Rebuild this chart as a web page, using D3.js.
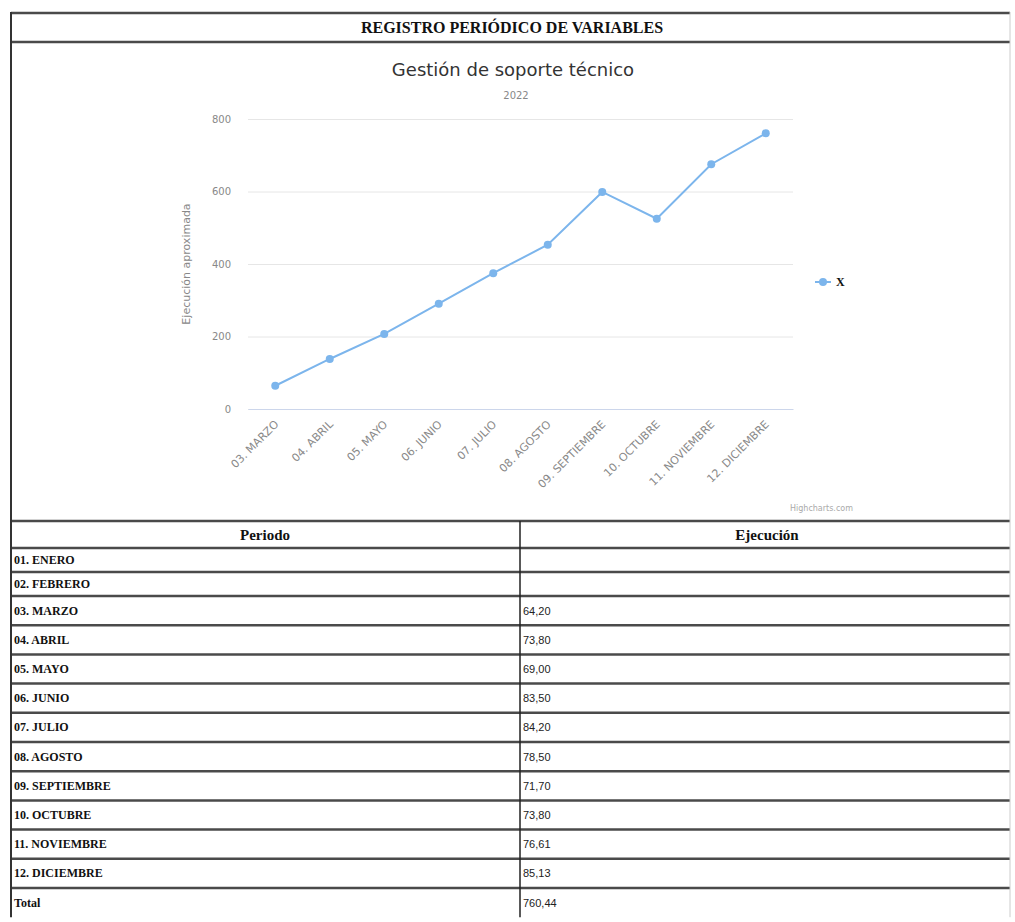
<!DOCTYPE html>
<html lang="es">
<head>
    <meta charset="UTF-8">
    <title>Registro periódico de variables</title>
    <script src="https://d3js.org/d3.v7.min.js"></script>
    <style>
        body { margin: 0; background: #fff; }
        .serif { font-family: "Liberation Serif", "Times New Roman", serif; font-weight: bold; fill: #111; }
        .hc { font-family: "DejaVu Sans", Verdana, sans-serif; }
        .num { font-family: "Liberation Sans Narrow", "Liberation Sans", Arial, sans-serif; fill: #222; }
    </style>
</head>
<body>
    <div id="page"></div>
    <script>
        // Data
        const months = ["03. MARZO", "04. ABRIL", "05. MAYO", "06. JUNIO", "07. JULIO",
                        "08. AGOSTO", "09. SEPTIEMBRE", "10. OCTUBRE", "11. NOVIEMBRE", "12. DICIEMBRE"];
        const accumulated = [64.2, 138.0, 207.0, 290.5, 374.7, 453.2, 598.7, 524.9, 675.3, 760.44];
        const yTicks = [0, 200, 400, 600, 800];

        const periods = ["01. ENERO", "02. FEBRERO", "03. MARZO", "04. ABRIL", "05. MAYO", "06. JUNIO",
                         "07. JULIO", "08. AGOSTO", "09. SEPTIEMBRE", "10. OCTUBRE", "11. NOVIEMBRE",
                         "12. DICIEMBRE", "Total"];
        const executions = ["", "", "64,20", "73,80", "69,00", "83,50", "84,20", "78,50", "71,70",
                            "73,80", "76,61", "85,13", "760,44"];

        const W = 1015, H = 922;
        const left = 11, right = 1010, mid = 520;
        const seriesColor = "#7cb5ec";

        const svg = d3.select("#page").append("svg")
            .attr("width", W)
            .attr("height", H);

        // outer frame + title row
        const lineColor = "#4a4a4a";
        function hline(y, w) {
            svg.append("line")
                .attr("x1", left).attr("x2", right)
                .attr("y1", y).attr("y2", y)
                .attr("stroke", lineColor)
                .attr("stroke-width", w || 2.5);
        }
        hline(13);
        hline(42);
        svg.append("text")
            .attr("class", "serif")
            .attr("x", 512).attr("y", 33)
            .attr("text-anchor", "middle")
            .attr("font-size", "16px")
            .text("REGISTRO PERIÓDICO DE VARIABLES");

        // ---- chart ----
        const x = d3.scaleBand().domain(months).range([248, 793]);
        const y = d3.scaleLinear().domain([0, 800]).range([409, 119]);
        const cx = d => x(d) + x.bandwidth() / 2;

        svg.append("text")
            .attr("class", "hc")
            .attr("x", 513).attr("y", 76)
            .attr("text-anchor", "middle")
            .attr("font-size", "18px")
            .attr("fill", "#333")
            .text("Gestión de soporte técnico");

        svg.append("text")
            .attr("class", "hc")
            .attr("x", 516).attr("y", 99)
            .attr("text-anchor", "middle")
            .attr("font-size", "10px")
            .attr("fill", "#888")
            .text("2022");

        // gridlines and y labels
        const yAxis = svg.append("g")
            .attr("transform", "translate(248,0)")
            .call(d3.axisLeft(y).tickValues(yTicks).tickSize(-(793 - 248)).tickPadding(17));
        yAxis.select(".domain").remove();
        yAxis.selectAll(".tick line").attr("stroke", "#e6e6e6");
        yAxis.selectAll(".tick text")
            .attr("class", "hc")
            .attr("font-size", "10px")
            .attr("fill", "#888");

        svg.append("text")
            .attr("class", "hc")
            .attr("transform", `translate(190,${(119 + 409) / 2}) rotate(-90)`)
            .attr("text-anchor", "middle")
            .attr("font-size", "11px")
            .attr("fill", "#888")
            .text("Ejecución aproximada");

        // x axis
        const xAxis = svg.append("g")
            .attr("transform", "translate(0,409)")
            .call(d3.axisBottom(x).tickSize(0).tickPadding(0));
        xAxis.select(".domain").attr("stroke", "#ccd6eb");
        xAxis.selectAll(".tick text")
            .attr("class", "hc")
            .attr("font-size", "11px")
            .attr("fill", "#888")
            .attr("text-anchor", "end")
            .attr("dy", 0)
            .attr("transform", "translate(4,16) rotate(-45)");

        // series
        const line = d3.line()
            .x((d, i) => cx(months[i]))
            .y(d => y(d));

        svg.append("path")
            .datum(accumulated)
            .attr("d", line)
            .attr("fill", "none")
            .attr("stroke", seriesColor)
            .attr("stroke-width", 2);

        svg.selectAll(".pt")
            .data(accumulated)
            .join("circle")
            .attr("class", "pt")
            .attr("cx", (d, i) => cx(months[i]))
            .attr("cy", d => y(d))
            .attr("r", 4)
            .attr("fill", seriesColor);

        // legend
        const lg = svg.append("g").attr("transform", "translate(815,282)");
        lg.append("line").attr("x1", 0).attr("x2", 16).attr("stroke", seriesColor).attr("stroke-width", 2);
        lg.append("circle").attr("cx", 8).attr("r", 4).attr("fill", seriesColor);
        lg.append("text")
            .attr("class", "serif")
            .attr("x", 21).attr("y", 4)
            .attr("font-size", "12px")
            .attr("fill", "#333")
            .text("X");

        svg.append("text")
            .attr("class", "hc")
            .attr("x", 853).attr("y", 511)
            .attr("text-anchor", "end")
            .attr("font-size", "8px")
            .attr("fill", "#aaa")
            .text("Highcharts.com");

        // ---- table ----
        const headerTop = 521, headerH = 27;
        hline(headerTop);
        hline(headerTop + headerH);
        svg.append("text")
            .attr("class", "serif")
            .attr("x", 265).attr("y", headerTop + 19)
            .attr("text-anchor", "middle")
            .attr("font-size", "15px")
            .text("Periodo");
        svg.append("text")
            .attr("class", "serif")
            .attr("x", 767).attr("y", headerTop + 19)
            .attr("text-anchor", "middle")
            .attr("font-size", "15px")
            .text("Ejecución");

        let rowY = headerTop + headerH;
        periods.forEach((p, i) => {
            const h = executions[i] === "" ? 24 : 29.2;
            svg.append("text")
                .attr("class", "serif")
                .attr("x", 14).attr("y", rowY + h / 2 + 4)
                .attr("font-size", "12px")
                .text(p);
            svg.append("text")
                .attr("class", "num")
                .attr("x", 523).attr("y", rowY + h / 2 + 4)
                .attr("font-size", "11px")
                .text(executions[i]);
            rowY += h;
            if (i < periods.length - 1) hline(rowY);
        });

        // vertical borders
        svg.append("line")
            .attr("x1", left).attr("x2", left)
            .attr("y1", 12).attr("y2", rowY)
            .attr("stroke", "#333").attr("stroke-width", 2);
        svg.append("line")
            .attr("x1", right).attr("x2", right)
            .attr("y1", 12).attr("y2", rowY)
            .attr("stroke", "#ccc").attr("stroke-width", 1);
        svg.append("line")
            .attr("x1", mid).attr("x2", mid)
            .attr("y1", headerTop).attr("y2", rowY)
            .attr("stroke", "#222").attr("stroke-width", 1.5);
    </script>
</body>
</html>
